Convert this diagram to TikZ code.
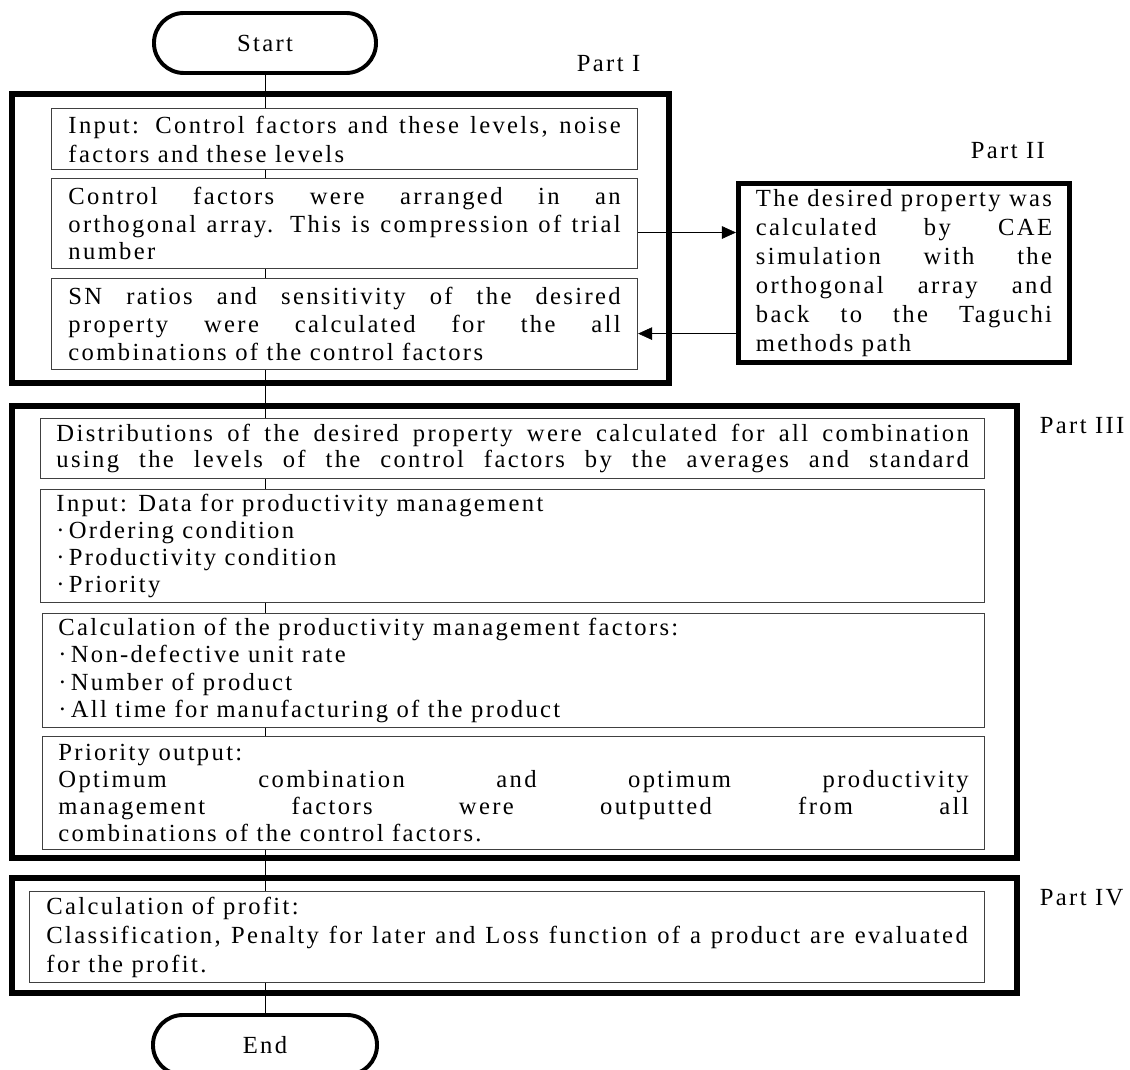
\documentclass[tikz,border=0pt]{standalone}
\usepackage{fontspec}
\setmainfont{Liberation Serif}[LetterSpace=9.5]
\usetikzlibrary{arrows.meta}
\newcommand{\dotitem}{\,·\,}

\begin{document}
\begin{tikzpicture}[x=0.025cm,y=-0.025cm,
	font=\fontsize{17.5pt}{20pt}\selectfont,
	partframe/.style={line width=4.2pt},
	procbox/.style={draw=black!75,line width=0.7pt,anchor=north west,inner ysep=0pt,align=justify},
	term/.style={draw,line width=2.8pt,rounded corners=0.75cm,minimum width=5.55cm,minimum height=1.5cm},
	flow/.style={-{Triangle[length=10pt,width=9pt]}},
	lead/.style={font=\fontsize{17.5pt}{#1}\selectfont}]
	\useasboundingbox (0,0) rectangle (1130,1070);
	% Part I
	\node[term] (start) at (265,43) {Start};
	\node[anchor=base west] (lab1) at (572,72) {Part I};
	\draw[partframe] (12,94) rectangle (669,383);
	\node[procbox,lead=20.6pt,minimum width=14.65cm,minimum height=1.525cm,text width=13.8cm,inner xsep=0.425cm] (b1) at (51,108)
		{Input: Control factors and these levels, noise\linebreak factors and these levels};
	\node[procbox,lead=19.6pt,minimum width=14.65cm,minimum height=2.25cm,text width=13.8cm,inner xsep=0.425cm] (b2) at (51,178)
		{Control factors were arranged in an\linebreak orthogonal array. This is compression of trial\linebreak number};
	\node[procbox,lead=19.6pt,minimum width=14.65cm,minimum height=2.275cm,text width=13.8cm,inner xsep=0.425cm] (b3) at (51,278)
		{SN ratios and sensitivity of the desired\linebreak property were calculated for the all\linebreak combinations of the control factors};
	% Part II
	\node[anchor=base west] (lab2) at (966,159) {Part II};
	\node[draw,line width=3.6pt,lead=20.6pt,align=justify,minimum width=8.275cm,minimum height=4.475cm,text width=7.4cm] (p2) at (904,273)
		{The desired property was\linebreak calculated by CAE\linebreak simulation with the\linebreak orthogonal array and\linebreak back to the Taguchi\linebreak methods path};
	\coordinate (out) at ([yshift=-0.225cm]b2.east);
	\coordinate (back) at ([yshift=-0.24cm]b3.east);
	\draw[flow] (out) -- (out -| p2.west);
	\draw[flow] (back -| p2.west) -- (back);
	% Part III
	\node[anchor=base west] (lab3) at (1035,433) {Part III};
	\draw[partframe] (12,406) rectangle (1017,858);
	\node[procbox,lead=17.8pt,minimum width=23.6cm,minimum height=1.5cm,text width=22.8cm,inner xsep=0.4cm] (b4) at (40,418)
		{\parfillskip=0pt Distributions of the desired property were calculated for all combination\linebreak using the levels of the control factors by the averages and standard\par};
	\node[procbox,lead=19pt,minimum width=23.6cm,minimum height=2.825cm,text width=22.8cm,inner xsep=0.4cm] (b5) at (40,489)
		{Input: Data for productivity management\\\dotitem Ordering condition\\\dotitem Productivity condition\\\dotitem Priority};
	\node[procbox,lead=19.4pt,minimum width=23.55cm,minimum height=2.85cm,text width=22.75cm,inner xsep=0.4cm] (b6) at (42,613)
		{Calculation of the productivity management factors:\\\dotitem Non-defective unit rate\\\dotitem Number of product\\\dotitem All time for manufacturing of the product};
	\node[procbox,lead=19.4pt,minimum width=23.55cm,minimum height=2.825cm,text width=22.75cm,inner xsep=0.4cm] (b7) at (42,736)
		{Priority output:\\Optimum combination and optimum productivity\linebreak management factors were outputted from all\linebreak combinations of the control factors.};
	% Part IV
	\node[anchor=base west] (lab4) at (1035,905) {Part IV};
	\draw[partframe] (12,878) rectangle (1017,993);
	\node[procbox,lead=20.6pt,minimum width=23.875cm,minimum height=2.275cm,text width=23.025cm,inner xsep=0.425cm] (b8) at (29,891)
		{Calculation of profit:\\Classification, Penalty for later and Loss function of a product are evaluated\linebreak for the profit.};
	\node[term,minimum width=5.6cm] (end) at (265,1045) {End};
	% spine
	\draw (start.south) -- (b1.north -| start.south);
	\foreach \a/\b in {b1/b2,b2/b3,b3/b4,b4/b5,b5/b6,b6/b7,b7/b8}
		\draw (\a.south -| start.south) -- (\b.north -| start.south);
	\draw (b8.south -| end.north) -- (end.north);
\end{tikzpicture}
\end{document}
